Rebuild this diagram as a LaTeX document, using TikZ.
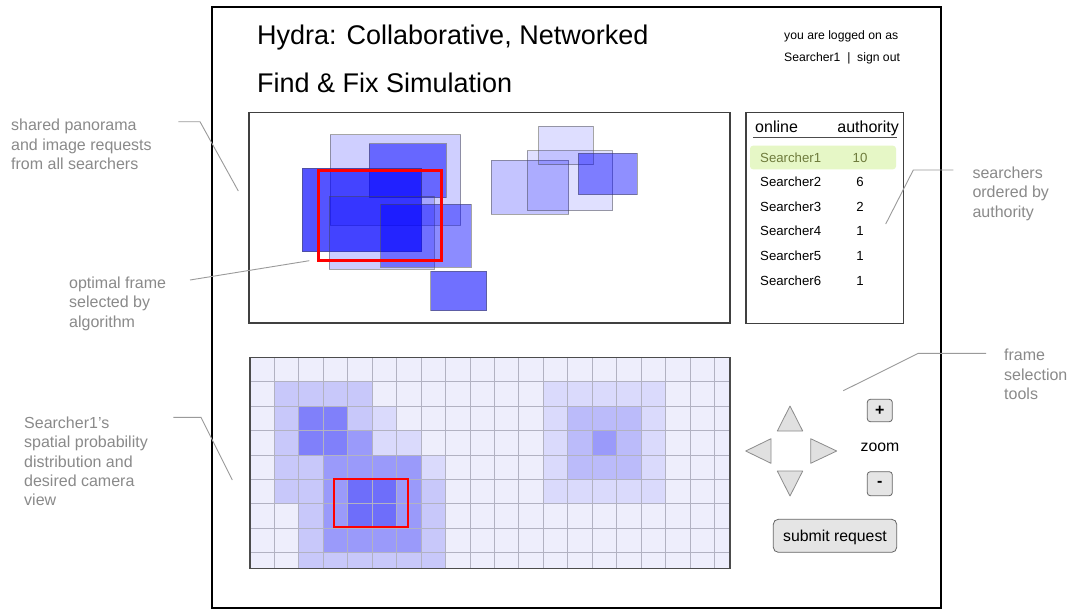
\documentclass[tikz,border=0pt]{standalone}
\usepackage{fontspec}
\setmainfont{Liberation Sans}
\begin{document}
\begin{tikzpicture}[x=1pt,y=-1pt,
  ui/.style={inner sep=0pt, font=\fontsize{13.2}{15}\selectfont},
  note/.style={inner sep=0pt, align=left, anchor=north west, text=notegray,
    font=\fontsize{16}{19.3}\selectfont},
  noteline/.style={draw=linegray, line width=0.9pt},
  panel/.style={draw=black!75, line width=1.2pt, fill=white},
  req/.style={fill=blue, draw=black!70, draw opacity=0.5, line width=0.9pt},
  arrowbtn/.style={fill=black!12, draw=black!45, line width=0.8pt, line join=round},
  btn/.style={fill=black!10, draw=black!60, line width=0.8pt, rounded corners=3pt},
]
\definecolor{notegray}{HTML}{8A8A8A}
\definecolor{linegray}{HTML}{9A9A9A}
\definecolor{hilite}{HTML}{E6F7C6}
\definecolor{olive}{HTML}{6E7B3C}
\definecolor{gridline}{HTML}{B2B2C2}
\definecolor{lv0}{HTML}{EEEEFC}
\definecolor{lv1}{HTML}{DADAFC}
\definecolor{lv2}{HTML}{C8C8FA}
\definecolor{lv3}{HTML}{BBBBFA}
\definecolor{lv4}{HTML}{9A9AFA}
\definecolor{lv5}{HTML}{8080FA}
\definecolor{lv6}{HTML}{6E6EFA}

\useasboundingbox (0,0) rectangle (1070,610);
\fill[white] (0,0) rectangle (1070,610);

% page frame
\draw[line width=2pt] (212,7) rectangle (941,608);

% header
\node[inner sep=0pt, anchor=base west, font=\fontsize{27}{30}\selectfont] (title1) at (257,44.3) {Hydra: Collaborative, Networked};
\node[inner sep=0pt, anchor=base west, font=\fontsize{27}{30}\selectfont] (title2) at (257,92.3) {Find \& Fix Simulation};
\node[inner sep=0pt, anchor=base west, font=\fontsize{12.2}{14}\selectfont] (login) at (784,39.5) {you are logged on as};
\node[inner sep=0pt, anchor=base west, font=\fontsize{12.2}{14}\selectfont] (user) at (784,61) {Searcher1\ \ |\ \ sign out};

% shared panorama
\draw[panel] (249,112.5) rectangle (730,323);
\node[inner sep=0pt] (pano) at (489.5,217.7) {};
\fill[req, fill opacity=0.19] (330.3,134.7) rectangle (460.7,225.3);
\fill[req, fill opacity=0.5]  (369,143.7) rectangle (446.3,197.7);
\fill[req, fill opacity=0.67] (302.3,168.3) rectangle (421.7,251.7);
\fill[req, fill opacity=0.2]  (329.3,196.3) rectangle (434,269.3);
\fill[req, fill opacity=0.45] (380.7,204.3) rectangle (471,267.3);
\fill[req, fill opacity=0.56] (430.7,271.3) rectangle (486.7,310.7);
\fill[req, fill opacity=0.23] (491,160.3) rectangle (568.7,214.3);
\fill[req, fill opacity=0.12] (527,150.7) rectangle (612.7,210.7);
\fill[req, fill opacity=0.13] (538.7,126.3) rectangle (593,164.7);
\fill[req, fill opacity=0.44] (578.3,153.3) rectangle (637.3,194.7);
\draw[red, line width=3pt] (318.3,170) rectangle (441,260.3);

% online searchers list
\draw[panel] (746,112.7) rectangle (903.3,323.3);
\node[inner sep=0pt, anchor=base west, font=\fontsize{16}{18}\selectfont] (hon) at (755,132.5) {online};
\node[inner sep=0pt, anchor=base east, font=\fontsize{16}{18}\selectfont] (hauth) at (899,132.5) {authority};
\draw[black!70, line width=1.6pt] (753,137.3) -- (897,137.3);
\fill[hilite, rounded corners=3pt] (750,145.7) rectangle (896,169.3);
\foreach \nm/\val/\yy [count=\i] in {Searcher1/10/162.5, Searcher2/6/186.5, Searcher3/2/211.3,
                                     Searcher4/1/235.8, Searcher5/1/260.5, Searcher6/1/285.3} {
  \ifnum\i=1
    \node[ui, anchor=base west, text=olive] (s\i) at (760,\yy) {\nm};
    \node[ui, anchor=base, text=olive] (v\i) at (860,\yy) {\val};
  \else
    \node[ui, anchor=base west] (s\i) at (760,\yy) {\nm};
    \node[ui, anchor=base] (v\i) at (860,\yy) {\val};
  \fi
}

% probability grid
\begin{scope}
  \clip (250,357.2) rectangle (730,568.8);
  \foreach \row [count=\r from 0] in {
    {0,0,0,0,0,0,0,0,0,0,0,0,0,0,0,0,0,0,0,0},
    {0,2,2,2,2,0,0,0,0,0,0,0,1,1,1,1,1,0,0,0},
    {0,2,5,5,2,1,0,0,0,0,0,0,1,3,3,3,1,0,0,0},
    {0,2,5,5,4,1,1,0,0,0,0,0,1,3,4,3,1,0,0,0},
    {0,2,2,4,4,4,4,1,0,0,0,0,1,3,3,3,1,0,0,0},
    {0,2,2,4,6,6,4,2,0,0,0,0,1,1,1,1,1,0,0,0},
    {0,0,2,4,6,6,4,2,0,0,0,0,0,0,0,0,0,0,0,0},
    {0,0,2,4,4,4,4,2,0,0,0,0,0,0,0,0,0,0,0,0},
    {0,0,2,2,2,2,2,2,0,0,0,0,0,0,0,0,0,0,0,0}} {
    \foreach \v [count=\c from 0] in \row {
      \fill[lv\v] ({250+\c*24.45},{357.2+\r*24.45}) rectangle +(24.45,24.45);
    }
  }
  \foreach \c in {1,...,19} \draw[gridline, line width=1pt] ({250+\c*24.45},357.2) -- ({250+\c*24.45},568.8);
  \foreach \r in {1,...,8} \draw[gridline, line width=1pt] (250,{357.2+\r*24.45}) -- (730,{357.2+\r*24.45});
\end{scope}
\draw[black!70, line width=1.1pt] (250,357.2) rectangle (730,568.8);
\node[inner sep=0pt] (grid) at (490,463) {};
\draw[red, line width=1.8pt] (334.3,478.7) rectangle (408.3,527.3);

% frame selection tools
\draw[arrowbtn] (790,406) -- (802.7,431) -- (777.3,431) -- cycle;
\draw[arrowbtn] (790,496) -- (802.7,471) -- (777.3,471) -- cycle;
\draw[arrowbtn] (745.7,451) -- (771,438.7) -- (771,463.3) -- cycle;
\draw[arrowbtn] (836.7,451) -- (810.7,438.7) -- (810.7,463.3) -- cycle;
\node[btn, minimum width=25pt, minimum height=22.4pt, inner sep=0pt, font=\fontsize{16}{16}\selectfont\bfseries] (zin) at (879.8,410.5) {+};
\node[inner sep=0pt, anchor=base, font=\fontsize{15.8}{18}\selectfont] (zlbl) at (880,451) {zoom};
\node[btn, minimum width=25pt, minimum height=24pt, inner sep=0pt, font=\fontsize{16}{16}\selectfont\bfseries] (zout) at (879.8,483.7) {-};
\node[btn, minimum width=123.4pt, minimum height=33pt, inner sep=0pt, rounded corners=5pt, text depth=0pt, font=\fontsize{15.8}{18}\selectfont] (submit) at (835,535.8) {};
\node[inner sep=0pt, anchor=base, font=\fontsize{15.8}{18}\selectfont] (sublbl) at (submit.center) [yshift=-5.5pt] {submit request};

% annotations
\node[note] (n1) at (11,119.2) {shared panorama\\and image requests\\from all searchers};
\coordinate (n1a) at (178.3,121.7);
\coordinate (n1b) at (200,121.7);
\coordinate (n1c) at (238.3,191);
\draw[noteline] (n1a) -- (n1b) -- (n1c);

\node[note] (n2) at (69,276.8) {optimal frame\\selected by\\algorithm};
\coordinate (n2a) at (190,280);
\coordinate (n2c) at (309.3,260.7);
\draw[noteline] (n2a) -- (n2c);

\node[note] (n3) at (24,416.8) {Searcher1's\\spatial probability\\distribution and\\desired camera\\view};
\coordinate (n3a) at (173.3,417.3);
\coordinate (n3b) at (201,417.3);
\coordinate (n3c) at (232.3,480);
\draw[noteline] (n3a) -- (n3b) -- (n3c);

\node[note] (n4) at (972.3,166.8) {searchers\\ordered by\\authority};
\coordinate (n4a) at (953.3,170);
\coordinate (n4b) at (913.3,170);
\coordinate (n4c) at (885.7,224);
\draw[noteline] (n4a) -- (n4b) -- (n4c);

\node[note] (n5) at (1004,349.2) {frame\\selection\\tools};
\coordinate (n5a) at (986,353.3);
\coordinate (n5b) at (918.3,353.3);
\coordinate (n5c) at (843.3,390.7);
\draw[noteline] (n5a) -- (n5b) -- (n5c);
\end{tikzpicture}
\end{document}
